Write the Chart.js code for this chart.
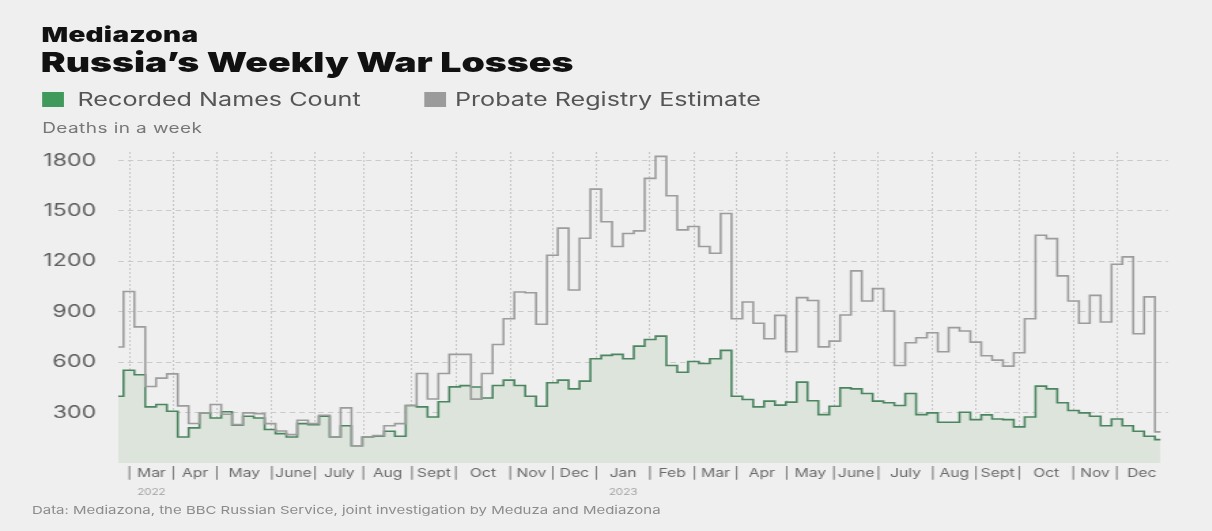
<!DOCTYPE html>
<html>
<head>
<meta charset="utf-8">
<script src="https://cdn.jsdelivr.net/npm/chart.js@4.4.0/dist/chart.umd.min.js"></script>
<style>
  body { margin: 0; width: 1212px; height: 531px; background: #efefef; overflow: hidden;
         font-family: Inter, "Noto Sans", sans-serif; }
  /* the whole graphic is stretched sideways, like the source picture */
  #page { position: absolute; left: 0; top: 0; width: 891.2px; height: 531px;
          transform: scaleX(1.36); transform-origin: 0 0; }
  .txt { position: absolute; line-height: 1; white-space: nowrap; }
  .brand { left: 30.5px; top: 25px; font-size: 20.5px; font-weight: 900; color: #111; letter-spacing: 0.2px; }
  .title { left: 30px; top: 49px; font-size: 27.5px; font-weight: 900; color: #111; }
  .leg { top: 90px; font-size: 18.5px; color: #555; }
  .sw { position: absolute; top: 92px; width: 16px; height: 15px; }
  .ylab { left: 31px; top: 121px; font-size: 14px; color: #777; letter-spacing: 0.3px; }
  .note { left: 23.5px; top: 505px; font-size: 11px; color: #8c8c8c; }
  #wrap { position: absolute; left: 0; top: 140px; width: 891.2px; height: 361px; }
</style>
</head>
<body>
<div id="page">
  <div class="txt brand">Mediazona</div>
  <div class="txt title">Russia’s Weekly War Losses</div>
  <div class="sw" style="left:31px; background:#3f9a5c"></div>
  <div class="txt leg" style="left:57px">Recorded Names Count</div>
  <div class="sw" style="left:312px; background:#9b9b9b"></div>
  <div class="txt leg" style="left:334.5px">Probate Registry Estimate</div>
  <div class="txt ylab">Deaths in a week</div>
  <div id="wrap"><canvas id="lossChart"></canvas></div>
  <div class="txt note">Data: Mediazona, the BBC Russian Service, joint investigation by Meduza and Mediazona</div>
</div>

<script>
// weekly values, first and last entries are partial weeks
const probateEstimate = [
    690, 1020, 810, 455, 505, 530, 340, 235, 298, 348,
    290, 228, 298, 294, 234, 190, 169, 254, 234, 284,
    155, 328, 103, 155, 163, 222, 234, 342, 532, 381,
    532, 646, 646, 380, 532, 705, 858, 1017, 1013, 825,
    1236, 1397, 1029, 1337, 1629, 1435, 1288, 1365, 1381, 1693,
    1824, 1590, 1387, 1407, 1288, 1248, 1484, 858, 958, 831,
    739, 878, 662, 984, 967, 691, 725, 880, 1143, 964,
    1037, 904, 580, 715, 745, 775, 662, 805, 785, 719,
    638, 612, 576, 656, 858, 1355, 1335, 1113, 964, 831,
    997, 839, 1182, 1226, 769, 988, 185
];

const recordedNames = [
    397, 552, 525, 334, 348, 308, 155, 209, 298, 268,
    305, 225, 278, 268, 199, 175, 155, 234, 228, 278,
    155, 222, 103, 155, 160, 189, 159, 342, 334, 274,
    364, 453, 460, 452, 387, 461, 493, 461, 397, 338,
    477, 493, 441, 487, 620, 640, 646, 620, 695, 735,
    755, 580, 540, 604, 592, 620, 670, 397, 378, 334,
    368, 344, 362, 481, 370, 288, 338, 447, 441, 413,
    368, 358, 342, 413, 288, 298, 242, 242, 302, 258,
    286, 262, 258, 215, 274, 457, 441, 358, 312, 298,
    278, 222, 262, 222, 189, 159, 139
];

// month boundaries, in weeks from the first data point
const monthStarts = [1.05, 5.1, 9.1, 14.16, 18.15, 22.6, 27.06, 31.11, 36.11, 40.04, 44.03,
                     49.0, 53.08, 56.98, 61.59, 65.94, 70.02, 75.03, 79.02, 83.0, 87.98, 91.97, 96.6];
const monthNames = ["Mar", "Apr", "May", "June", "July", "Aug", "Sept", "Oct", "Nov", "Dec", "Jan",
                    "Feb", "Mar", "Apr", "May", "June", "July", "Aug", "Sept", "Oct", "Nov", "Dec"];
const yearLabels = [{month: 0, text: "2022"}, {month: 10, text: "2023"}];
const yTicks = [300, 600, 900, 1200, 1500, 1800];

Chart.defaults.font.family = "Inter, 'Noto Sans', sans-serif";

function stepPoints(values) {
    const pts = values.map((v, i) => ({x: i === 0 ? 0 : i - 0.5, y: v}));
    pts.push({x: values.length - 1, y: values[values.length - 1]});
    return pts;
}

// bars "|" on month starts, names in the middle of each month
const xTicks = [];
monthNames.forEach((name, i) => {
    xTicks.push({value: monthStarts[i], label: "|", start: true});
    xTicks.push({value: (monthStarts[i] + monthStarts[i + 1]) / 2, label: name, start: false});
});

const yearTicks = yearLabels.map(y => ({
    value: (monthStarts[y.month] + monthStarts[y.month + 1]) / 2,
    label: y.text
}));

const ctx = document.getElementById("lossChart").getContext("2d");

new Chart(ctx, {
    type: "line",
    data: {
        datasets: [
            {
                label: "Probate Registry Estimate",
                data: stepPoints(probateEstimate),
                stepped: true,
                borderColor: "#9c9c9c",
                borderWidth: 1.6,
                pointRadius: 0,
                fill: false,
                order: 0
            },
            {
                label: "Recorded Names Count",
                data: stepPoints(recordedNames),
                stepped: true,
                borderColor: "#4b8560",
                backgroundColor: "#dce4dc",
                borderWidth: 1.6,
                pointRadius: 0,
                fill: "origin",
                order: 1
            }
        ]
    },
    options: {
        responsive: true,
        maintainAspectRatio: false,
        animation: false,
        layout: {padding: {left: 0, right: 32.4, top: 12, bottom: 0}},
        plugins: {legend: {display: false}, tooltip: {enabled: false}},
        scales: {
            x: {
                type: "linear",
                min: 0,
                max: 96.7,
                afterBuildTicks: axis => { axis.ticks = xTicks.map(t => ({value: t.value})); },
                afterFit: axis => { axis.height = 20; },
                grid: {
                    drawTicks: false,
                    color: c => (c.index !== undefined && xTicks[c.index] && xTicks[c.index].start) ? "#c6c6c6" : "transparent",
                    lineWidth: 1
                },
                border: {display: false, dash: [2, 2]},
                ticks: {
                    autoSkip: false,
                    maxRotation: 0,
                    minRotation: 0,
                    padding: 4,
                    color: "#6a6a6a",
                    font: {size: 11.5},
                    callback: (v, i) => xTicks[i].label
                }
            },
            xYear: {
                type: "linear",
                position: "bottom",
                min: 0,
                max: 96.7,
                afterBuildTicks: axis => { axis.ticks = yearTicks.map(t => ({value: t.value})); },
                afterFit: axis => { axis.height = 18; },
                grid: {display: false},
                border: {display: false},
                ticks: {
                    autoSkip: false,
                    maxRotation: 0,
                    padding: -4,
                    color: "#a0a0a0",
                    font: {size: 8.5},
                    callback: (v, i) => yearTicks[i].label
                }
            },
            y: {
                min: 0,
                max: 1850,
                afterBuildTicks: axis => { axis.ticks = yTicks.map(v => ({value: v})); },
                afterFit: axis => { axis.width = 86.8; },
                grid: {drawTicks: true, tickLength: 16.2, tickColor: "transparent", color: "#cacaca"},
                border: {display: false, dash: [4, 3]},
                ticks: {
                    padding: 0,
                    color: "#606060",
                    font: {size: 17},
                    callback: v => String(v)
                }
            }
        }
    }
});
</script>
</body>
</html>
